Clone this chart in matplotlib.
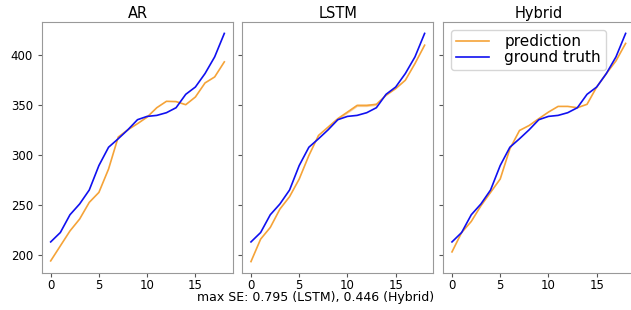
import matplotlib
matplotlib.use("Agg")
import matplotlib.pyplot as plt
import numpy as np

steps = list(range(19))
ground_truth = [213, 222.4, 240.2, 251, 265, 289.5, 307.8, 316.3, 325.3, 335.4,
                338.7, 339.7, 342.4, 347.4, 360.8, 368.1, 381.6, 398.3, 421.8]
pred_ar = [194, 209, 224, 235.9, 252.6, 262.6, 286, 318, 325.3, 331.4,
           338, 347.4, 353.8, 353.5, 350.4, 358.1, 372.2, 378.2, 393.3]
pred_lstm = [193.3, 215.8, 227.5, 245.9, 258.3, 276, 299.5, 319.6, 328, 336.4,
             343, 349.7, 349.7, 350.8, 359.8, 366.5, 374.9, 391.6, 410]
pred_hybrid = [203, 222.4, 233.5, 249.2, 262.6, 276, 306.2, 324.6, 329.6, 336.4,
               343, 348.7, 348.7, 347.4, 350.8, 368.1, 381.6, 394.3, 411.8]
titles = ["AR", "LSTM", "Hybrid"]
max_se_text = "max SE: 0.795 (LSTM), 0.446 (Hybrid)"
lstm_band_idx = [8, 9, 10, 11, 12, 13]
lstm_band_half = 1.2

orange = "#f5a338"
blue = "#1010f0"

fig = plt.figure(figsize=(6.31, 3.10), dpi=100)
lefts = [42/631, 242.3/631, 443.3/631]
w = 191/631
b = 37/310
h = 251/310
axes = []
for i, l in enumerate(lefts):
    ax = fig.add_axes([l, b, w, h], sharey=axes[0] if axes else None)
    axes.append(ax)

preds = [pred_ar, pred_lstm, pred_hybrid]
for i, ax in enumerate(axes):
    ax.plot(steps, preds[i], color=orange, lw=1.2, label="prediction")
    ax.plot(steps, ground_truth, color=blue, lw=1.2, label="ground truth")
    if i == 1:
        xs = [steps[k] for k in lstm_band_idx]
        ys = np.array([pred_lstm[k] for k in lstm_band_idx])
        ax.fill_between(xs, ys - lstm_band_half, ys + lstm_band_half,
                        color=orange, alpha=0.45, lw=0)
    ax.set_title(titles[i], fontsize=10.5, pad=3)
    ax.set_xticks([0, 5, 10, 15])
    ax.tick_params(labelsize=8.5, length=3, color="#555555")
    ax.tick_params(axis="x", pad=1.5)
    for s in ax.spines.values():
        s.set_color("#999999")
    if i > 0:
        ax.tick_params(labelleft=False)
axes[0].set_yticks([200, 250, 300, 350, 400])
axes[2].legend(loc="upper left", fontsize=11, handlelength=2.2,
               borderaxespad=0.5, labelspacing=0.05, borderpad=0.3,
               handletextpad=1.0)
fig.text(0.5, 0.018, max_se_text, ha="center", va="bottom", fontsize=9)
fig.savefig("out.png", dpi=100)
